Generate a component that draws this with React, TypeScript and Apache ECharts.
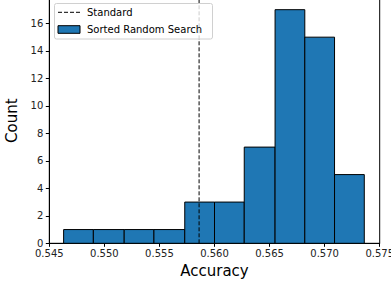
import React, { useEffect, useRef } from "react";
import * as echarts from "echarts";

const binEdges = [0.5463, 0.549, 0.5518, 0.5545, 0.5573, 0.56, 0.5627, 0.5655, 0.5682, 0.5709, 0.5736];
const counts = [1, 1, 1, 1, 3, 3, 7, 17, 15, 5];
const standardAccuracy = 0.5586;
const xTicks = { min: 0.545, max: 0.575, interval: 0.005 };
const yTicks = { min: 0, max: 17.85, interval: 2 };
const legendLabels = ["Standard", "Sorted Random Search"];

const FONT = "DejaVu Sans";
const BLUE = "#1f77b4";

export default function App() {
  const ref = useRef<HTMLDivElement>(null);
  useEffect(() => {
    if (!ref.current) return;
    const chart = echarts.init(ref.current, undefined, { renderer: "svg" });
    const data = counts.map((c, i) => [binEdges[i], binEdges[i + 1], c]);
    chart.setOption({
      animation: false,
      backgroundColor: "#fff",
      textStyle: { fontFamily: FONT },
      grid: {
        left: 49.3,
        right: 11.3,
        top: -2,
        bottom: 43.7,
        outerBoundsMode: "none",
        containLabel: false,
        show: true,
        borderColor: "#000",
        borderWidth: 1,
        backgroundColor: "transparent",
      },
      xAxis: {
        type: "value",
        min: xTicks.min,
        max: xTicks.max,
        interval: xTicks.interval,
        name: "Accuracy",
        nameLocation: "middle",
        nameGap: 20,
        nameTextStyle: { fontSize: 15, color: "#000", fontFamily: FONT },
        axisLine: { show: true, onZero: false, lineStyle: { color: "#000", width: 1 } },
        axisTick: { show: true, length: 3.5, lineStyle: { color: "#000" } },
        axisLabel: {
          fontSize: 10,
          color: "#222",
          margin: 5,
          fontFamily: FONT,
          formatter: (v: number) => v.toFixed(3),
        },
        splitLine: { show: false },
      },
      yAxis: {
        type: "value",
        min: yTicks.min,
        max: yTicks.max,
        interval: yTicks.interval,
        name: "Count",
        nameLocation: "middle",
        nameGap: 23,
        nameTextStyle: { fontSize: 15, color: "#000", fontFamily: FONT },
        axisLine: { show: true, lineStyle: { color: "#000", width: 1 } },
        axisTick: { show: true, length: 3.5, lineStyle: { color: "#000" } },
        axisLabel: { fontSize: 10, color: "#222", margin: 6, fontFamily: FONT, showMaxLabel: false },
        splitLine: { show: false },
      },
      series: [
        {
          type: "custom",
          name: legendLabels[1],
          data,
          encode: { x: [0, 1], y: 2 },
          renderItem: (params: any, api: any) => {
            const x0 = api.value(0);
            const x1 = api.value(1);
            const c = api.value(2);
            const p0 = api.coord([x0, c]);
            const p1 = api.coord([x1, 0]);
            return {
              type: "rect",
              shape: { x: p0[0], y: p0[1], width: p1[0] - p0[0], height: p1[1] - p0[1] },
              style: { fill: BLUE, stroke: "#000", lineWidth: 1 },
            };
          },
          z: 2,
        },
        {
          type: "line",
          name: legendLabels[0],
          data: [
            [standardAccuracy, yTicks.min],
            [standardAccuracy, yTicks.max],
          ],
          symbol: "none",
          silent: true,
          lineStyle: { color: "#000", type: [4, 2], width: 1 },
          z: 5,
        },
      ],
      graphic: [
        {
          type: "group",
          z: 100,
          children: [
            {
              type: "rect",
              shape: { x: 54.5, y: 3.5, width: 158, height: 35.5, r: 2 },
              style: { fill: "rgba(255,255,255,0.8)", stroke: "#d0d0d0", lineWidth: 1 },
              z: 100,
            },
            {
              type: "line",
              shape: { x1: 58, y1: 12.3, x2: 80, y2: 12.3 },
              style: { stroke: "#000", lineWidth: 1, lineDash: [4, 2] },
              z: 101,
            },
            {
              type: "rect",
              shape: { x: 58, y: 25.7, width: 22, height: 7.6 },
              style: { fill: BLUE, stroke: "#000", lineWidth: 1 },
              z: 101,
            },
            {
              type: "text",
              x: 87,
              y: 12.3,
              style: { text: legendLabels[0], fontSize: 10, fill: "#000", fontFamily: FONT, verticalAlign: "middle" },
              z: 101,
            },
            {
              type: "text",
              x: 87,
              y: 29.3,
              style: { text: legendLabels[1], fontSize: 10, fill: "#000", fontFamily: FONT, verticalAlign: "middle" },
              z: 101,
            },
          ],
        },
      ],
    });
    return () => chart.dispose();
  }, []);
  return (
    <div
      ref={ref}
      style={{ position: "fixed", left: 0, top: 0, width: 391, height: 287 }}
    />
  );
}
